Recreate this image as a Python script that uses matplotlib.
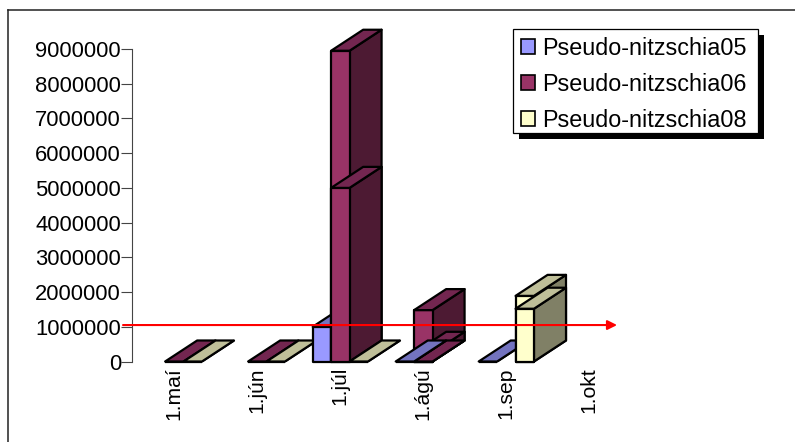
import matplotlib
matplotlib.use('Agg')
import matplotlib.pyplot as plt
from matplotlib.lines import Line2D
from matplotlib.patches import Patch, Rectangle
import numpy as np

months = ['1.maí', '1.jún', '1.júl', '1.ágú', '1.sep', '1.okt']
names = ['Pseudo-nitzschia05', 'Pseudo-nitzschia06', 'Pseudo-nitzschia08']

# each month can hold several samples, tallest first
pn05 = [[], [], [1000000], [0], [0], []]
pn06 = [[0], [0], [8950000, 5000000], [1480000, 250000, 0], [], []]
pn08 = [[0], [0], [0], [], [1890000, 1520000], []]
series = [pn05, pn06, pn08]
limit = 1050000

# front, top, side
colors = [('#9999ff', '#7373bf', '#4d4d80'),
          ('#993366', '#732650', '#4d1a33'),
          ('#ffffcc', '#bfbf99', '#808066')]
# the flat pn05 bar in august sits on top of pn06
order = [[0, 1, 2], [0, 1, 2], [0, 1, 2], [1, 2, 0], [0, 1, 2], [0, 1, 2]]

plt.rcParams['font.family'] = 'Liberation Sans'

W, H = 795, 442
fig = plt.figure(figsize=(W / 100, H / 100), dpi=100)
ax = fig.add_axes([132 / W, 1 - 361.5 / H, 498 / W, 312.5 / H])
ax.set_xlim(-0.5, 5.5)
ax.set_ylim(0, 9000000)

bar_w = 0.222
dx = 0.386
dy = 605000


def bar3d(x, h, c):
    front = [(x, 0), (x + bar_w, 0), (x + bar_w, h), (x, h)]
    top = [(x, h), (x + bar_w, h), (x + bar_w + dx, h + dy), (x + dx, h + dy)]
    side = [(x + bar_w, 0), (x + bar_w + dx, dy), (x + bar_w + dx, h + dy), (x + bar_w, h)]
    for pts, col in ((side, c[2]), (front, c[0]), (top, c[1])):
        xs, ys = zip(*pts)
        ax.fill(xs, ys, facecolor=col, edgecolor='black', linewidth=1.6,
                joinstyle='round', clip_on=False, zorder=3)


for m in range(len(months)):
    for s in order[m]:
        for h in series[s][m]:
            bar3d(m - 1.5 * bar_w + s * bar_w + 0.01, h, colors[s])

ax.annotate('', xy=(0.974, limit), xytext=(-0.018, limit),
            xycoords=ax.get_yaxis_transform(), textcoords=ax.get_yaxis_transform(),
            arrowprops=dict(arrowstyle='-|>', color='#ff0000', lw=1.5,
                            shrinkA=0, shrinkB=0, mutation_scale=14),
            zorder=6, annotation_clip=False)

ax.set_yticks(np.arange(0, 9000001, 1000000))
ax.set_yticklabels([str(v) for v in range(0, 9000001, 1000000)])
ax.set_xticks(np.arange(len(months)))
ax.set_xticklabels(months, rotation=90)
ax.tick_params(axis='y', labelsize=15.8, length=8, width=0.8, color='#444444', pad=0)
ax.tick_params(axis='x', labelsize=15.2, length=0, pad=4)
for side in ('top', 'right', 'bottom'):
    ax.spines[side].set_visible(False)
ax.spines['left'].set_color('#444444')

handles = [Patch(facecolor=c[0], edgecolor='black', linewidth=1.2) for c in colors]
leg = ax.legend(handles, names, loc='upper left', bbox_to_anchor=(521 / W, 1 - 37 / H),
                bbox_transform=fig.transFigure, fontsize=16.8, frameon=False,
                borderaxespad=0, borderpad=0, labelspacing=0.55,
                handlelength=0.62, handleheight=0.62, handletextpad=0.3)
leg.set_zorder(8)

# legend box and its hard shadow, placed by hand
ax.add_patch(Rectangle((519 / W, 1 - 139 / H), 245 / W, 104 / H, transform=fig.transFigure,
                       facecolor='black', edgecolor='none', clip_on=False, zorder=7))
ax.add_patch(Rectangle((513 / W, 1 - 133 / H), 245 / W, 104 / H, transform=fig.transFigure,
                       facecolor='white', edgecolor='black', linewidth=0.9, clip_on=False, zorder=7.5))

# outer chart frame, only top and left show
fig.add_artist(Line2D([8 / W, 8 / W], [0, 1 - 9.5 / H], color='#222222', lw=1.1))
fig.add_artist(Line2D([8 / W, 1], [1 - 9.5 / H, 1 - 9.5 / H], color='#222222', lw=1.1))

fig.savefig('out.png', dpi=100)
